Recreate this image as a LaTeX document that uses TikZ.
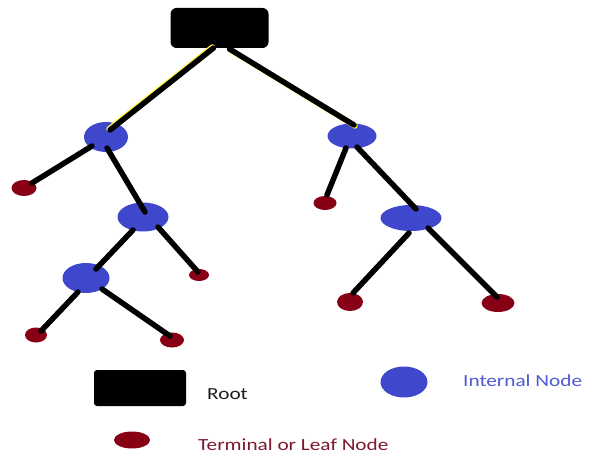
\documentclass[tikz,border=0pt]{standalone}
\usepackage{fontspec}
\setmainfont[FakeStretch=1.25]{Carlito}
\usetikzlibrary{shapes.geometric,calc}
\definecolor{pblue}{RGB}{63,72,204}
\definecolor{pred}{RGB}{136,0,21}
\definecolor{pyellow}{RGB}{255,242,0}
\definecolor{tblue}{RGB}{80,90,210}
\definecolor{tred}{RGB}{125,25,45}
\definecolor{tdark}{RGB}{30,30,30}
\begin{document}
\begin{tikzpicture}[x=1pt,y=-1pt,
  rootbox/.style={rectangle,fill=black,inner sep=0,rounded corners=#1},
  inode/.style={ellipse,fill=pblue,inner sep=0},
  leaf/.style={ellipse,fill=pred,inner sep=0},
  edge/.style={line width=5.5pt,black,line cap=round},
  glow/.style={line width=5.5pt,pyellow!70!white,line cap=round},
  legtext/.style={anchor=base west,inner sep=0,font=\fontsize{17}{20}\selectfont}]
\useasboundingbox (0,0) rectangle (593,454);
\fill[white] (0,0) rectangle (593,454);
% nodes
\node[rootbox=6pt,minimum width=98pt,minimum height=40pt] (root) at (219.5,28) {};
\node[inode,minimum width=44pt,minimum height=30pt] (A) at (106,137) {};
\node[inode,minimum width=49pt,minimum height=25pt] (B) at (352,136) {};
\node[inode,minimum width=51pt,minimum height=29pt] (C) at (143,217) {};
\node[inode,minimum width=47pt,minimum height=30pt] (D) at (86,278) {};
\node[inode,minimum width=61pt,minimum height=26pt] (E) at (411,218) {};
\node[leaf,minimum width=25pt,minimum height=16pt] (L1) at (24,188) {};
\node[leaf,minimum width=20pt,minimum height=12pt] (L2) at (199,275) {};
\node[leaf,minimum width=22pt,minimum height=15pt] (L3) at (36,335) {};
\node[leaf,minimum width=24pt,minimum height=15pt] (L4) at (172,340) {};
\node[leaf,minimum width=23pt,minimum height=14pt] (R1) at (325,203) {};
\node[leaf,minimum width=26pt,minimum height=18pt] (R2) at (350,302) {};
\node[leaf,minimum width=33pt,minimum height=18pt] (R3) at (498,303) {};
% yellow fringe on root edges
\draw[glow] ($(root)+(-7,19)$) -- ($(A)+(3,-8)$);
\draw[glow] ($(root)+(11,22)$) -- ($(B)+(3,-10)$);
% edges
\draw[edge] ($(root)+(-6,20)$) -- ($(A)+(4,-7)$);
\draw[edge] ($(root)+(10,21)$) -- ($(B)+(2,-11)$);
\draw[edge] ($(A)+(-14,9)$) -- ($(L1)+(8,-5)$);
\draw[edge] ($(A)+(1,11)$) -- ($(C)+(2,-5)$);
\draw[edge] ($(C)+(-10,13)$) -- ($(D)+(10,-9)$);
\draw[edge] ($(C)+(15,10)$) -- ($(L2)+(-1,-3)$);
\draw[edge] ($(D)+(-8,14)$) -- ($(L3)+(5,-4)$);
\draw[edge] ($(D)+(16,11)$) -- ($(L4)+(-2,-4)$);
\draw[edge] ($(B)+(-6,12)$) -- ($(R1)+(2,-8)$);
\draw[edge] ($(B)+(5,11)$) -- ($(E)+(5,-9)$);
\draw[edge] ($(E)+(-2,15)$) -- ($(R2)+(3,-9)$);
\draw[edge] ($(E)+(17,10)$) -- ($(R3)+(-1,-6)$);
% legend
\node[rootbox=3pt,minimum width=92pt,minimum height=36pt] (lroot) at (140,388) {};
\node[inode,minimum width=47pt,minimum height=31pt] (lint) at (404,382) {};
\node[leaf,minimum width=36pt,minimum height=17pt] (lleaf) at (132,440) {};
\node[legtext,text=tdark] (troot) at (207,399) {Root};
\node[legtext,text=tblue] (tint) at (463,386) {Internal Node};
\node[legtext,text=tred] (tleaf) at (198,450) {Terminal or Leaf Node};
\end{tikzpicture}
\end{document}
